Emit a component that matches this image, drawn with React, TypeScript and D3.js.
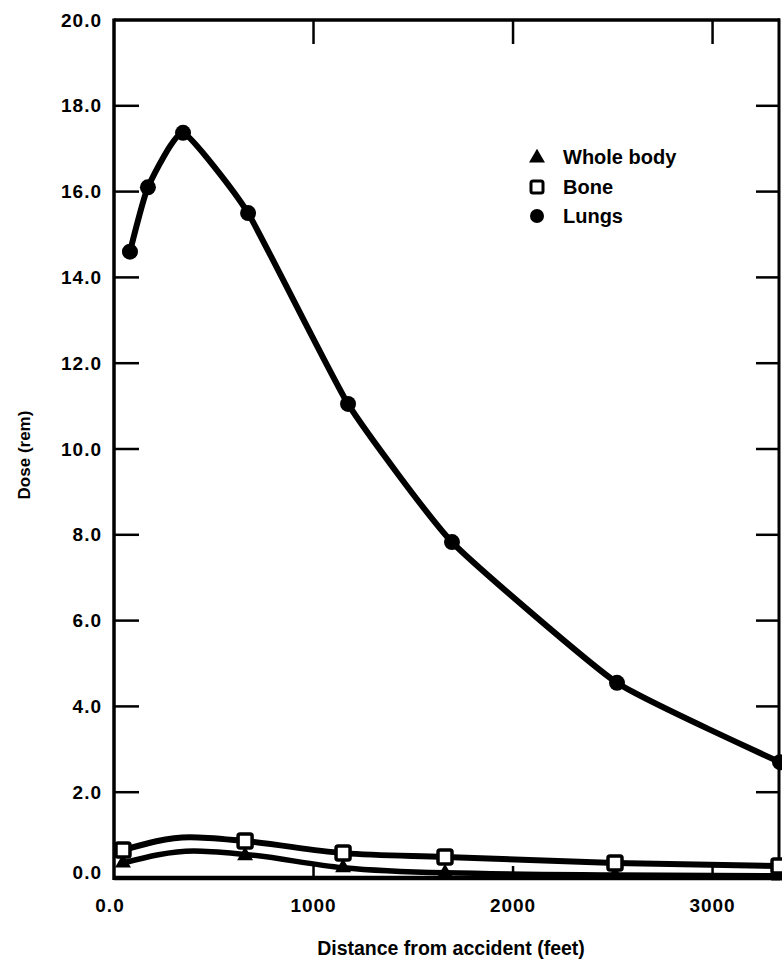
import React from "react";
import * as d3 from "d3";

const distances = [80, 170, 346, 672, 1173, 1694, 2521, 3338];
const lungs = [14.6, 16.1, 17.37, 15.5, 11.05, 7.83, 4.55, 2.7];
const otherDistances = [45, 657, 1148, 1659, 2511, 3333];
const bone = [0.65, 0.86, 0.58, 0.49, 0.35, 0.28];
const wholeBody = [0.35, 0.52, 0.24, 0.12, 0.07, 0.05];
// smooth fitted curves (no markers at the peak points)
const boneCurveDist = [45, 380, 657, 1148, 1659, 2511, 3333];
const boneCurve = [0.65, 0.95, 0.86, 0.58, 0.49, 0.35, 0.28];
const wbCurveDist = [45, 400, 657, 1148, 1659, 2511, 3333];
const wbCurve = [0.35, 0.63, 0.55, 0.24, 0.12, 0.07, 0.05];
const yTicks = [0, 2, 4, 6, 8, 10, 12, 14, 16, 18, 20];
const xTicks = [0, 1000, 2000, 3000];
const legendItems = ["Whole body", "Bone", "Lungs"];

const W = 782;
const H = 962;
const FONT = "'Liberation Sans', Arial, sans-serif";

export default function App() {
  const x = d3.scaleLinear().domain([0, 3338]).range([114, 780]);
  const y = d3.scaleLinear().domain([0, 20]).range([878, 20]);

  const lungLine = d3
    .line<[number, number]>()
    .x((d) => x(d[0]))
    .y((d) => y(d[1]))
    .curve(d3.curveCardinal.tension(0.55));
  const smoothLine = d3
    .line<[number, number]>()
    .x((d) => x(d[0]))
    .y((d) => y(d[1]))
    .curve(d3.curveMonotoneX);

  const lungPts = distances.map((d, i) => [d, lungs[i]] as [number, number]);
  const bonePts = otherDistances.map((d, i) => [d, bone[i]] as [number, number]);
  const wbPts = otherDistances.map((d, i) => [d, wholeBody[i]] as [number, number]);
  const boneCurvePts = boneCurveDist.map((d, i) => [d, boneCurve[i]] as [number, number]);
  const wbCurvePts = wbCurveDist.map((d, i) => [d, wbCurve[i]] as [number, number]);

  const tri = d3.symbol().type(d3.symbolTriangle).size(110)();

  const x0 = x(0);
  const x1 = x.range()[1];
  const y0 = y(0);
  const y1 = y(20);

  const textProps = { fontWeight: "bold" as const };

  return (
    <svg
      width={W}
      height={H}
      style={{ position: "absolute", left: 0, top: 0, background: "#fff" }}
      fontFamily={FONT}
    >
      <rect x={0} y={0} width={W} height={H} fill="#fff" />
      {/* frame */}
      <line x1={x0} y1={y1} x2={x1} y2={y1} stroke="#000" strokeWidth={3.5} />
      <line x1={x0} y1={y1 - 1.5} x2={x0} y2={y0 + 2} stroke="#000" strokeWidth={3.5} />
      <line x1={x1 - 1} y1={y1 - 1.5} x2={x1 - 1} y2={y0 + 2} stroke="#000" strokeWidth={3} />
      <line x1={x0} y1={y0} x2={x1} y2={y0} stroke="#000" strokeWidth={4.5} />

      {/* y ticks */}
      {yTicks.map((t) => (
        <g key={"y" + t}>
          {t > 0 && t < 20 && (
            <>
              <line x1={x0} x2={x0 + 25} y1={y(t)} y2={y(t)} stroke="#000" strokeWidth={2.5} />
              <line x1={x1 - 24} x2={x1} y1={y(t)} y2={y(t)} stroke="#000" strokeWidth={2.5} />
            </>
          )}
          <text
            x={102}
            y={y(t) - (t === 0 ? 6 : 0)}
            textAnchor="end"
            dominantBaseline="central"
            fontSize={19}
            letterSpacing={1}
            {...textProps}
          >
            {t.toFixed(1)}
          </text>
        </g>
      ))}

      {/* x ticks */}
      {xTicks.map((t) => (
        <g key={"x" + t}>
          {t > 0 && (
            <>
              <line x1={x(t)} x2={x(t)} y1={y1} y2={y1 + 24} stroke="#000" strokeWidth={2.5} />
              <line x1={x(t)} x2={x(t)} y1={y0} y2={y0 - 12} stroke="#000" strokeWidth={2.5} />
            </>
          )}
          <text
            x={t === 0 ? 110 : x(t)}
            y={905}
            textAnchor="middle"
            dominantBaseline="central"
            fontSize={19}
            letterSpacing={1}
            {...textProps}
          >
            {t === 0 ? "0.0" : String(t)}
          </text>
        </g>
      ))}

      {/* axis titles */}
      <text x={451} y={948} textAnchor="middle" dominantBaseline="central" fontSize={19.5} {...textProps}>
        Distance from accident (feet)
      </text>
      <text
        transform="translate(24,455) rotate(-90)"
        textAnchor="middle"
        dominantBaseline="central"
        fontSize={17}
        {...textProps}
      >
        Dose (rem)
      </text>

      {/* series */}
      <path d={smoothLine(wbCurvePts) || ""} fill="none" stroke="#000" strokeWidth={5.5} />
      <path d={smoothLine(boneCurvePts) || ""} fill="none" stroke="#000" strokeWidth={6} />
      <path d={lungLine(lungPts) || ""} fill="none" stroke="#000" strokeWidth={6} />

      {wbPts.map((p, i) => (
        <path key={"t" + i} d={tri || ""} transform={`translate(${x(p[0])},${y(p[1])})`} fill="#000" />
      ))}
      {bonePts.map((p, i) => (
        <rect
          key={"b" + i}
          x={x(p[0]) - 7}
          y={y(p[1]) - 7}
          width={14}
          height={14}
          rx={2}
          fill="#fff"
          stroke="#000"
          strokeWidth={3.5}
        />
      ))}
      {lungPts.map((p, i) => (
        <circle key={"l" + i} cx={x(p[0])} cy={y(p[1])} r={8} fill="#000" />
      ))}

      {/* legend */}
      <g>
        <path d={tri || ""} transform="translate(537,158)" fill="#000" />
        <rect x={531} y={181} width={12} height={12} rx={2} fill="#fff" stroke="#000" strokeWidth={3} />
        <circle cx={537} cy={216} r={7} fill="#000" />
        {legendItems.map((s, i) => (
          <text key={s} x={563} y={157 + i * 29.5} dominantBaseline="central" fontSize={20} {...textProps}>
            {s}
          </text>
        ))}
      </g>
    </svg>
  );
}
